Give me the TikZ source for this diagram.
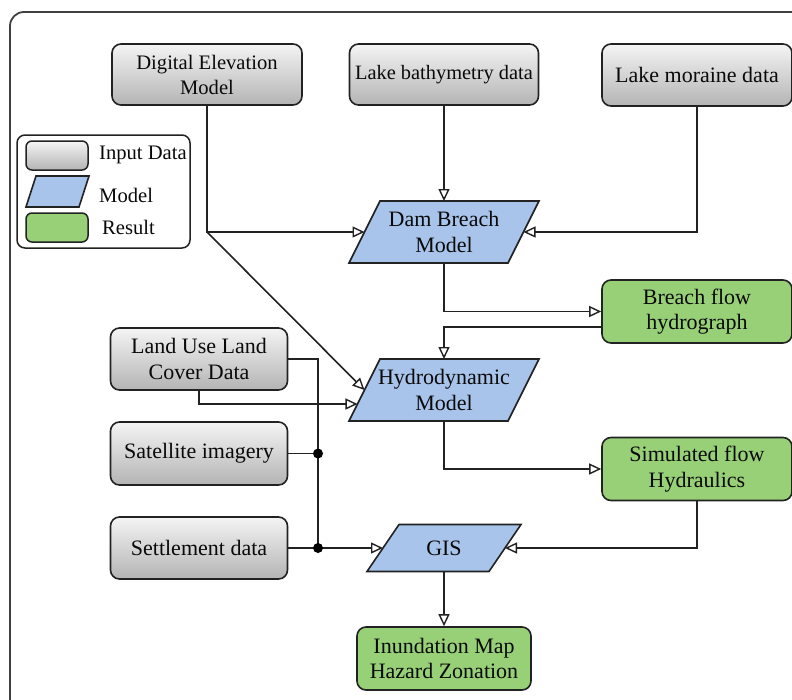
\documentclass[tikz,border=0pt]{standalone}
\usepackage{fontspec}
\setmainfont{Liberation Serif}
\usetikzlibrary{arrows.meta,calc}
\definecolor{bluefill}{HTML}{A9C4EB}
\definecolor{greenfill}{HTML}{97D077}
\definecolor{edgecol}{HTML}{222222}
\definecolor{graytop}{HTML}{F4F4F4}
\definecolor{graybot}{HTML}{B4B4B4}
\definecolor{txtcol}{HTML}{0A0A0A}

\newcommand{\paranode}[8]{%
  \coordinate (#1-tl) at ({#2-#4/2+#6/2},{#3-#5/2});
  \coordinate (#1-tr) at ({#2+#4/2+#6/2},{#3-#5/2});
  \coordinate (#1-br) at ({#2+#4/2-#6/2},{#3+#5/2});
  \coordinate (#1-bl) at ({#2-#4/2-#6/2},{#3+#5/2});
  \draw[#7] (#1-tl) -- (#1-tr) -- (#1-br) -- (#1-bl) -- cycle;
  \coordinate (#1-l) at ($(#1-tl)!0.5!(#1-bl)$);
  \coordinate (#1-r) at ($(#1-tr)!0.5!(#1-br)$);
  \coordinate (#1-n) at (#2,{#3-#5/2});
  \coordinate (#1-s) at (#2,{#3+#5/2});
  \node[txt] (#1) at (#2,#3) {#8};
}

\begin{document}
\begin{tikzpicture}[x=1pt,y=-1pt,
  txt/.style={font=\fontsize{22}{25.5}\selectfont, text=txtcol, align=center, inner sep=0pt},
  small/.style={font=\fontsize{20.6}{25}\selectfont},
  inbox/.style={txt, draw=edgecol, line width=1.6pt, rounded corners=9pt,
     top color=graytop, bottom color=graybot},
  resbox/.style={txt, draw=edgecol, line width=1.6pt, rounded corners=9pt, fill=greenfill},
  modelshape/.style={draw=edgecol, line width=1.6pt, fill=bluefill, line join=miter},
  line/.style={draw=edgecol, line width=1.6pt},
  conn/.style={line, -{Triangle[length=12pt, width=11pt, fill=white, line width=1.4pt]}},
  dot/.style={circle, fill=black, inner sep=0pt, minimum size=10pt}
]
\useasboundingbox (0,0) rectangle (792,699);
\draw[draw=black!75, line width=1.8pt, rounded corners=14pt] (10,12) rectangle (840,750);

% input data
\node[inbox, small, minimum width=190pt, minimum height=61pt] (dem) at (207,74.5) {Digital Elevation\\Model};
\node[inbox, small, font=\fontsize{20.4}{25}\selectfont, minimum width=189pt, minimum height=61pt] (bathy) at (444,74.5) {Lake bathymetry data};
\node[inbox, minimum width=190pt, minimum height=62pt] (moraine) at (697,75) {Lake moraine data};
\node[inbox, minimum width=177pt, minimum height=62pt] (lulc) at (199,359) {Land Use Land\\Cover Data};
\node[inbox, minimum width=177pt, minimum height=63pt] (sat) at (199,453.5) {Satellite imagery};
\node[inbox, minimum width=177pt, minimum height=62pt] (settle) at (199,548) {Settlement data};

% results
\node[resbox, minimum width=190pt, minimum height=63pt] (breach) at (697,311.5) {Breach flow\\hydrograph};
\node[resbox, minimum width=190pt, minimum height=63pt] (sim) at (697,469) {Simulated flow\\Hydraulics};
\node[resbox, minimum width=174pt, minimum height=63pt] (inund) at (444,658.5) {Inundation Map\\Hazard Zonation};

% models
\paranode{dbm}{444}{232}{159}{62}{31}{modelshape}{Dam Breach\\Model}
\paranode{hydro}{444}{390}{159}{62}{31}{modelshape}{Hydrodynamic\\Model}
\paranode{gis}{444}{548}{122}{47}{32}{modelshape}{GIS}

% legend
\node[draw=edgecol, line width=1.5pt, rounded corners=8pt, fill=white,
      minimum width=173pt, minimum height=113pt, inner sep=0pt] (legend) at (103.5,191.5) {};
\node[draw=edgecol, line width=1.5pt, rounded corners=6pt, top color=graytop, bottom color=graybot,
      minimum width=62pt, minimum height=29pt, inner sep=0pt] (leg-in) at (57,155.5) {};
\paranode{legm}{57.5}{191.5}{53}{31}{10}{modelshape}{}
\node[draw=edgecol, line width=1.5pt, rounded corners=6pt, fill=greenfill,
      minimum width=62pt, minimum height=29pt, inner sep=0pt] (leg-res) at (57,227.5) {};
\node[txt, small, anchor=west] (leg-in-t) at (99,155) {Input Data};
\node[txt, small, anchor=west] (leg-m-t) at (99,195) {Model};
\node[txt, small, anchor=west] (leg-res-t) at (102,227) {Result};

% helper coordinates
\coordinate (demj) at (dem.south |- dbm-l);
\coordinate (breach-out) at ($(breach.west)+(0,15.5)$);
\coordinate (hydro-l2) at ($(hydro-tl)!0.726!(hydro-bl)$);
\coordinate (j1) at (318,453.5);
\coordinate (j2) at (318,548);

% connectors
\draw[conn] (dem.south) |- (dbm-l);
\draw[conn] (demj) -- (hydro-l);
\draw[conn] (bathy.south) -- (dbm-n);
\draw[conn] (moraine.south) |- (dbm-r);
\draw[conn] (dbm-s) |- (breach.west);
\draw[conn] (breach-out) -| (hydro-n);
\draw[conn] (lulc.south) |- (hydro-l2);
\draw[line] (lulc.east) -| (j2);
\draw[line] (sat.east) -- (j1);
\draw[conn] (settle.east) -- (gis-l);
\draw[conn] (hydro-s) |- (sim.west);
\draw[conn] (sim.south) |- (gis-r);
\draw[conn] (gis-s) -- (inund.north);
\node[dot] (d1) at (j1) {};
\node[dot] (d2) at (j2) {};
\end{tikzpicture}
\end{document}
